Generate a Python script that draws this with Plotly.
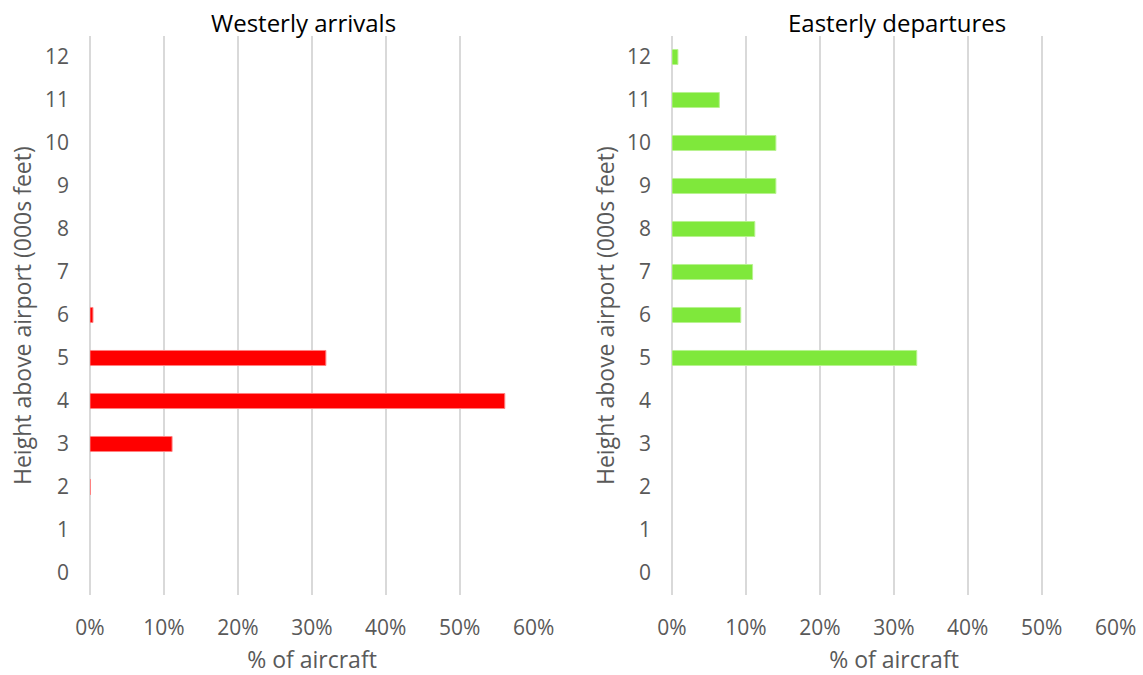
import plotly.graph_objects as go

heights = list(range(0, 13))
west_arrivals = [0, 0, 0.0005, 0.111, 0.561, 0.319, 0.004, 0, 0, 0, 0, 0, 0]
east_departures = [0, 0, 0, 0, 0, 0.331, 0.093, 0.109, 0.112, 0.1405, 0.1405, 0.064, 0.008]
x_ticks = [0, 0.1, 0.2, 0.3, 0.4, 0.5, 0.6]
x_tick_labels = ["0%", "10%", "20%", "30%", "40%", "50%", "60%"]

W, H = 1143, 675
FONT = "Open Sans"
TICKC = "#595959"
GRIDC = "#D9D9D9"

def nz(vals):
    return [v if v > 0 else None for v in vals]

fig = go.Figure()
fig.add_trace(go.Bar(y=heights, x=nz(west_arrivals), orientation="h", width=0.35,
                     marker=dict(color="#FF0000", line=dict(color="#FF8080", width=1)),
                     xaxis="x", yaxis="y", showlegend=False))
fig.add_trace(go.Bar(y=heights, x=nz(east_departures), orientation="h", width=0.35,
                     marker=dict(color="#7FE83B", line=dict(color="#B8F290", width=1)),
                     xaxis="x2", yaxis="y2", showlegend=False))

ydom = [1 - 594.5 / H, 1 - 35.5 / H]
xdom1 = [90 / W, 534 / W]
xdom2 = [672 / W, 1116 / W]

def xax(dom, anchor):
    return dict(domain=dom, anchor=anchor, range=[0, 0.6005], tickvals=x_ticks, ticktext=x_tick_labels,
                showgrid=True, gridcolor=GRIDC, gridwidth=2, zeroline=True, zerolinecolor=GRIDC,
                zerolinewidth=2, showline=False, ticks="", ticklabelstandoff=18, automargin=False,
                tickfont=dict(family=FONT, size=21, color=TICKC),
                title=dict(text="% of aircraft", font=dict(family=FONT, size=23, color=TICKC), standoff=16),
                fixedrange=True)

def yax(anchor):
    return dict(domain=ydom, anchor=anchor, range=[-0.5, 12.5], tickvals=heights,
                showgrid=False, zeroline=False, showline=False, ticks="", ticklabelstandoff=20,
                automargin=False,
                tickfont=dict(family=FONT, size=21, color=TICKC),
                fixedrange=True)

def ytitle(xpx):
    return dict(text="Height above airport (000s feet)", x=xpx / W, y=1 - 316 / H,
                xref="paper", yref="paper", showarrow=False, textangle=-90,
                xanchor="center", yanchor="middle",
                font=dict(family=FONT, size=23, color=TICKC))

fig.update_layout(
    width=W, height=H, margin=dict(l=0, r=0, t=0, b=0),
    paper_bgcolor="white", plot_bgcolor="white", bargap=0.6,
    xaxis=xax(xdom1, "y"), yaxis=yax("x"),
    xaxis2=xax(xdom2, "y2"), yaxis2=yax("x2"),
    annotations=[
        dict(text="Westerly arrivals", x=303 / W, y=1 - 22 / H, xref="paper", yref="paper",
             showarrow=False, xanchor="center", yanchor="middle",
             font=dict(family=FONT, size=24, color="#000000")),
        dict(text="Easterly departures", x=897 / W, y=1 - 22 / H, xref="paper", yref="paper",
             showarrow=False, xanchor="center", yanchor="middle",
             font=dict(family=FONT, size=24, color="#000000")),
        ytitle(22),
        ytitle(605),
    ],
)

fig.write_html("out.html")
